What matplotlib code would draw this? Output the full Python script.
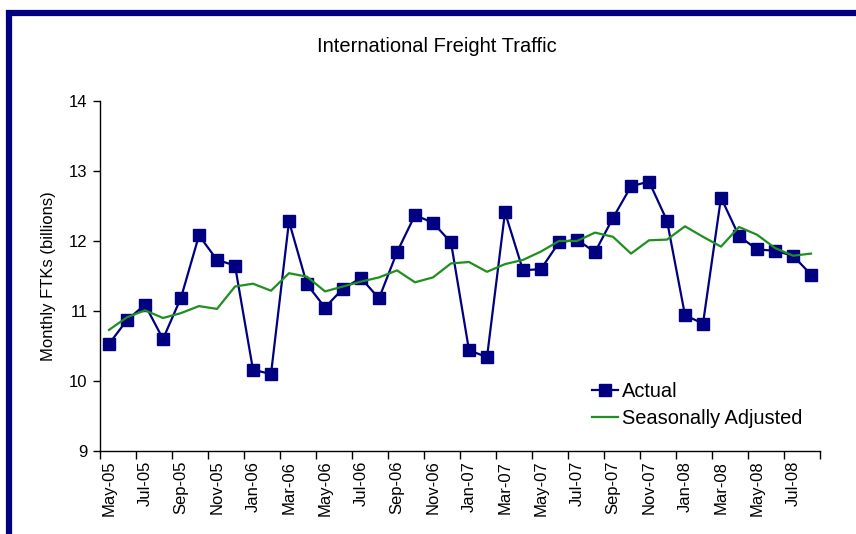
import numpy as np
import matplotlib.pyplot as plt
from matplotlib.lines import Line2D

plt.rcParams['font.family'] = ['Liberation Sans', 'DejaVu Sans']

# monthly data May-05 .. Aug-08
months = ['May-05', 'Jun-05', 'Jul-05', 'Aug-05', 'Sep-05', 'Oct-05', 'Nov-05', 'Dec-05',
          'Jan-06', 'Feb-06', 'Mar-06', 'Apr-06', 'May-06', 'Jun-06', 'Jul-06', 'Aug-06',
          'Sep-06', 'Oct-06', 'Nov-06', 'Dec-06', 'Jan-07', 'Feb-07', 'Mar-07', 'Apr-07',
          'May-07', 'Jun-07', 'Jul-07', 'Aug-07', 'Sep-07', 'Oct-07', 'Nov-07', 'Dec-07',
          'Jan-08', 'Feb-08', 'Mar-08', 'Apr-08', 'May-08', 'Jun-08', 'Jul-08', 'Aug-08']

actual = [10.53, 10.87, 11.09, 10.60, 11.19, 12.08, 11.73, 11.65,
          10.16, 10.10, 12.28, 11.38, 11.05, 11.32, 11.47, 11.18,
          11.84, 12.37, 12.26, 11.98, 10.44, 10.34, 12.41, 11.58,
          11.60, 11.98, 12.02, 11.84, 12.33, 12.78, 12.85, 12.29,
          10.94, 10.82, 12.62, 12.07, 11.88, 11.86, 11.79, 11.52]

seasonal = [10.73, 10.91, 11.01, 10.90, 10.97, 11.07, 11.03, 11.35,
            11.39, 11.29, 11.54, 11.49, 11.28, 11.35, 11.42, 11.48,
            11.58, 11.41, 11.48, 11.68, 11.70, 11.56, 11.67, 11.73,
            11.85, 12.00, 12.00, 12.12, 12.06, 11.82, 12.01, 12.02,
            12.21, 12.06, 11.92, 12.20, 12.09, 11.90, 11.79, 11.82]

navy = '#000080'
green = '#1f8f1f'

fig = plt.figure(figsize=(8.56, 5.34), dpi=100)
ax = fig.add_axes([100 / 856, 1 - 451 / 534, 720 / 856, 350 / 534])

x = np.arange(len(months))
ax.plot(x, actual, color=navy, lw=1.6, marker='s', ms=8, mfc=navy, mec=navy, label='Actual')
ax.plot(x, seasonal, color=green, lw=1.6, label='Seasonally Adjusted')

ax.set_xlim(-0.5, len(months) - 0.5)
ax.set_ylim(9, 14)
ax.set_yticks(range(9, 15))
ax.tick_params(axis='y', labelsize=12, length=5, width=1, colors='black', pad=4)

# boundary ticks every 2 months, labels centred on the category
ax.set_xticks(np.arange(-0.5, len(months), 2))
ax.set_xticklabels([])
ax.tick_params(axis='x', which='major', length=6, width=1)
ax.set_xticks(x[::2], minor=True)
ax.set_xticklabels(months[::2], minor=True, rotation=90, fontsize=12)
ax.tick_params(axis='x', which='minor', length=0, pad=7)

ax.spines['top'].set_visible(False)
ax.spines['right'].set_visible(False)
for s in ['left', 'bottom']:
    ax.spines[s].set_linewidth(1)

ax.set_ylabel('Monthly FTKs (billions)', fontsize=12, labelpad=9)

fig.text(437 / 856, 1 - 46 / 534, 'International Freight Traffic', ha='center', va='center', fontsize=14.5)

ax.legend(loc='upper left', bbox_to_anchor=(484 / 720, 77 / 350), frameon=False, fontsize=14.4,
          handlelength=1.3, handletextpad=0.2, labelspacing=0.4, borderaxespad=0)

# navy frame along top and left edge
fig.add_artist(Line2D([6 / 856, 1], [1 - 13 / 534, 1 - 13 / 534], color=navy, lw=4.5,
                      transform=fig.transFigure, solid_capstyle='butt'))
fig.add_artist(Line2D([9 / 856, 9 / 856], [0, 1 - 10 / 534], color=navy, lw=4.5,
                      transform=fig.transFigure, solid_capstyle='butt'))

fig.savefig('out.png', dpi=100)
